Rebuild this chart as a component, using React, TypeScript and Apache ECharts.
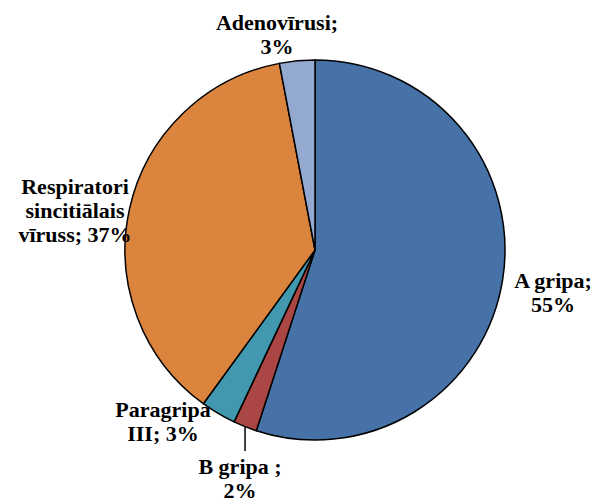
import React, { useEffect, useRef } from "react";
import * as echarts from "echarts";

const categories = ["A gripa", "B gripa", "Paragripa III", "Respiratori sincitiālais vīruss", "Adenovīrusi"];
const values = [55, 2, 3, 37, 3];
const labelTexts = ["A gripa;\n55%", "B gripa ;\n2%", "Paragripa\nIII; 3%", "Respiratori\nsincitiālais\nvīruss; 37%", "Adenovīrusi;\n3%"];
const colors = ["#4672A8", "#AA4643", "#4198AF", "#DB843D", "#93A9CF"];
const labelPos: [number, number][] = [
  [553, 292],
  [240, 478],
  [163, 421],
  [75, 210],
  [277, 34],
];

const CX = 315;
const CY = 250;
const R = 190;

export default function App() {
  const ref = useRef<HTMLDivElement>(null);
  useEffect(() => {
    if (!ref.current) return;
    const chart = echarts.init(ref.current, undefined, { renderer: "svg" });

    // leader line for the "B gripa" slice, anchored at its mid angle
    const total = values.reduce((a, b) => a + b, 0);
    const before = values.slice(0, 1).reduce((a, b) => a + b, 0);
    const midFrac = (before + values[1] / 2) / total;
    const ang = midFrac * 2 * Math.PI; // clockwise from top
    const ax = CX + R * Math.sin(ang);
    const ay = CY - R * Math.cos(ang);

    chart.setOption({
      animation: false,
      backgroundColor: "#ffffff",
      graphic: [
        {
          type: "line",
          shape: { x1: ax, y1: ay, x2: ax, y2: 451 },
          style: { stroke: "#000000", lineWidth: 1.5 },
          z: 10,
        },
      ],
      series: [
        {
          type: "pie",
          center: [CX, CY],
          radius: [0, R],
          startAngle: 90,
          clockwise: true,
          avoidLabelOverlap: false,
          itemStyle: { borderColor: "#000000", borderWidth: 1.5 },
          label: {
            show: true,
            position: "outside",
            formatter: (p: any) => labelTexts[p.dataIndex],
            fontFamily: "Liberation Serif",
            fontWeight: "bold",
            fontSize: 22,
            lineHeight: 24,
            color: "#000000",
            align: "center",
          },
          labelLine: { show: false },
          labelLayout: (params: any) => {
            const pos = labelPos[params.dataIndex];
            return { x: pos[0], y: pos[1], align: "center", verticalAlign: "middle" };
          },
          emphasis: { disabled: true },
          data: categories.map((name, i) => ({
            name,
            value: values[i],
            itemStyle: { color: colors[i] },
          })),
        },
      ],
    });
    return () => chart.dispose();
  }, []);
  return (
    <div
      ref={ref}
      style={{ position: "absolute", left: 0, top: 0, width: 600, height: 502 }}
    />
  );
}
